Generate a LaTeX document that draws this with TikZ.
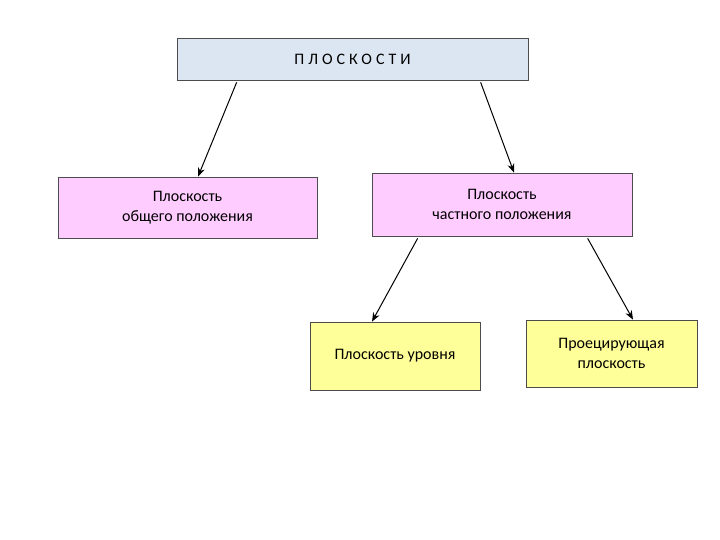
\documentclass[tikz,border=0pt]{standalone}
\usepackage{fontspec}
\setmainfont{Carlito}
\usetikzlibrary{arrows.meta,calc}
\definecolor{topc}{HTML}{DCE6F2}
\definecolor{pinkc}{HTML}{FFCCFF}
\definecolor{yelc}{HTML}{FFFF99}
\begin{document}
\begin{tikzpicture}[x=1pt,y=-1pt,
  box/.style={draw=black!70,line width=0.7pt,inner sep=0pt,font=\fontsize{16}{20}\selectfont,align=center},
  arr/.style={-{Stealth[length=9pt,width=7pt]},line width=1pt}]
\useasboundingbox (0,0) rectangle (720,540);
\node[box,fill=topc,minimum width=351pt,minimum height=42pt] (top) at (352.5,59) {\addfontfeatures{LetterSpace=25}ПЛОСКОСТИ};
\node[box,fill=pinkc,minimum width=259pt,minimum height=61pt] (l) at (187.5,207.5) {Плоскость\\общего положения};
\node[box,fill=pinkc,minimum width=260pt,minimum height=63pt] (r) at (502,204.5) {Плоскость\\частного положения};
\node[box,fill=yelc,minimum width=170pt,minimum height=68pt] (bl) at (395,356) {Плоскость уровня};
\node[box,fill=yelc,minimum width=171pt,minimum height=67pt] (br) at (611.5,353.5) {Проецирующая\\плоскость};
\coordinate (a1) at ($(top.south west)+(60,2)$);
\coordinate (a2) at ($(top.south west)+(304,2)$);
\coordinate (b1) at ($(r.south west)+(46,2)$);
\coordinate (b2) at ($(r.south west)+(216,2)$);
\draw[arr] (a1) -- (l.north -| 198,0);
\draw[arr] (a2) -- (r.north -| 514,0);
\draw[arr] (b1) -- (bl.north -| 372,0);
\draw[arr] (b2) -- (br.north -| 633,0);
\end{tikzpicture}
\end{document}
